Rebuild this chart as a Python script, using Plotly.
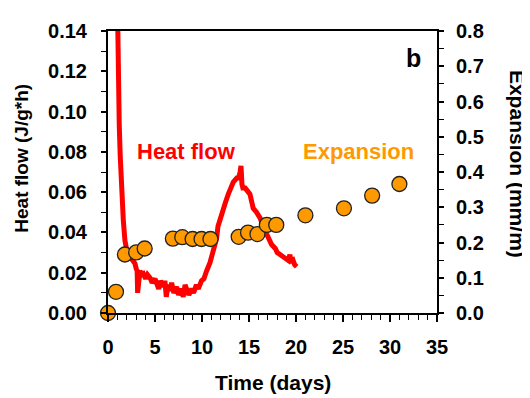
import plotly.graph_objects as go

# Heat flow (left axis), time in days
hf_time = [0.95, 1.0, 1.1, 1.2, 1.3, 1.4, 1.5, 1.63, 1.8, 2.0,
           2.34, 2.6, 2.87, 3.0, 3.1, 3.15, 3.25, 3.4, 3.6, 3.76,
           4.0, 4.2, 4.47, 4.7, 5.0, 5.2, 5.4, 5.6, 5.9, 6.05,
           6.2, 6.4, 6.6, 6.77, 7.0, 7.3, 7.5, 7.8, 8.0, 8.2,
           8.4, 8.6, 8.9, 9.1, 9.4, 9.6, 9.95, 10.2, 10.5, 10.85,
           11.2, 11.55, 11.7, 12.0, 12.27, 12.5, 12.8, 13.0, 13.33, 13.7,
           13.9, 14.05, 14.15, 14.25, 14.35, 14.6, 14.8, 15.1, 15.3, 15.45,
           15.8, 16.2, 16.5, 16.9, 17.1, 17.4, 17.8, 18.0, 18.3, 18.6,
           18.9, 19.2, 19.35, 19.5, 19.7, 19.85, 20.07]
hf_value = [0.17, 0.14, 0.115, 0.093, 0.078, 0.064, 0.054, 0.046, 0.036, 0.031,
            0.028, 0.026, 0.0245, 0.022, 0.021, 0.010, 0.019, 0.021, 0.019, 0.0195,
            0.017, 0.019, 0.0175, 0.015, 0.017, 0.015, 0.012, 0.016, 0.013, 0.016,
            0.008, 0.014, 0.011, 0.015, 0.010, 0.013, 0.009, 0.012, 0.008, 0.014,
            0.012, 0.009, 0.012, 0.010, 0.014, 0.012, 0.016, 0.017, 0.021, 0.025,
            0.031, 0.037, 0.043, 0.048, 0.052, 0.055, 0.059, 0.061, 0.065, 0.067,
            0.067, 0.070, 0.073, 0.064, 0.062, 0.062, 0.061, 0.059, 0.055, 0.052,
            0.050, 0.047, 0.043, 0.039, 0.036, 0.034, 0.032, 0.030, 0.029, 0.028,
            0.027, 0.026, 0.029, 0.025, 0.026, 0.024, 0.023]

# Expansion (right axis)
exp_time = [0, 0.85, 1.8, 3.0, 3.9, 6.9, 7.9, 9.0, 9.95, 10.9, 13.9, 14.9, 15.9, 16.9, 17.9, 21.0, 25.1, 28.1, 31.0]
exp_value = [0.0, 0.06, 0.166, 0.172, 0.183, 0.211, 0.215, 0.21, 0.21, 0.21, 0.216, 0.228, 0.224, 0.25, 0.25,
             0.277, 0.297, 0.333, 0.366]

x_ticks = [0, 5, 10, 15, 20, 25, 30, 35]
hf_ticks = [0.00, 0.02, 0.04, 0.06, 0.08, 0.10, 0.12, 0.14]
exp_ticks = [0.0, 0.1, 0.2, 0.3, 0.4, 0.5, 0.6, 0.7, 0.8]

FONT = "Arial, Liberation Sans, sans-serif"
RED = "#FF0000"
ORANGE = "#FF9900"

fig = go.Figure()
fig.add_trace(go.Scatter(x=hf_time, y=hf_value, mode="lines",
                         line=dict(color=RED, width=5), yaxis="y", showlegend=False))
fig.add_trace(go.Scatter(x=exp_time, y=exp_value, mode="markers", yaxis="y2", cliponaxis=False,
                         marker=dict(color=ORANGE, size=15, line=dict(color="#222222", width=1.3)),
                         showlegend=False))

tickfont = dict(family=FONT, size=20, color="black")
fig.update_layout(
    width=522, height=390, autosize=False,
    margin=dict(l=100, r=93, t=20, b=85),
    paper_bgcolor="white", plot_bgcolor="white",
    xaxis=dict(range=[0, 35], tickvals=x_ticks, ticktext=[f"<b>{v}</b>" for v in x_ticks],
               ticks="outside", ticklen=7, tickwidth=1.5, tickcolor="black",
               minor=dict(dtick=1, ticks="outside", ticklen=5, tickwidth=1.2, tickcolor="black"),
               showline=True, linecolor="black", linewidth=2, mirror=True,
               showgrid=False, zeroline=False, tickfont=tickfont, ticklabelstandoff=8),
    yaxis=dict(range=[0, 0.14], tickvals=hf_ticks, ticktext=[f"<b>{v:.2f}</b>" for v in hf_ticks],
               ticks="outside", ticklen=5, tickwidth=1.5, tickcolor="black",
               minor=dict(dtick=0.01, ticks="outside", ticklen=5, tickwidth=1.2, tickcolor="black"),
               showline=True, linecolor="black", linewidth=2,
               showgrid=False, zeroline=False, tickfont=tickfont, ticklabelstandoff=10),
    yaxis2=dict(range=[0, 0.8], overlaying="y", side="right",
                tickvals=exp_ticks, ticktext=[f"<b>{v:.1f}</b>" for v in exp_ticks],
                ticks="outside", ticklen=5, tickwidth=1.5, tickcolor="black",
                minor=dict(dtick=0.05, ticks="outside", ticklen=5, tickwidth=1.2, tickcolor="black"),
                showline=True, linecolor="black", linewidth=2,
                showgrid=False, zeroline=False, tickfont=tickfont, ticklabelstandoff=8),
    annotations=[
        dict(text="<b>Time (days)</b>", xref="paper", yref="paper", x=0.5, y=-0.245,
             showarrow=False, font=dict(family=FONT, size=21, color="black"),
             xanchor="center", yanchor="middle"),
        dict(text="<b>Heat flow (J/g*h)</b>", xref="paper", yref="paper", x=-0.262, y=0.55,
             textangle=-90, showarrow=False, font=dict(family=FONT, size=19, color="black"),
             xanchor="center", yanchor="middle"),
        dict(text="<b>Expansion (mm/m)</b>", xref="paper", yref="paper", x=1.245, y=0.53,
             textangle=90, showarrow=False, font=dict(family=FONT, size=21, color="black"),
             xanchor="center", yanchor="middle"),
        dict(text="<b>b</b>", xref="paper", yref="paper", x=0.93, y=0.905,
             showarrow=False, font=dict(family=FONT, size=25, color="black"),
             xanchor="center", yanchor="middle"),
        dict(text="<b>Heat flow</b>", xref="x", yref="y", x=8.4, y=0.080,
             showarrow=False, font=dict(family=FONT, size=22, color=RED),
             xanchor="center", yanchor="middle"),
        dict(text="<b>Expansion</b>", xref="x", yref="y", x=26.6, y=0.080,
             showarrow=False, font=dict(family=FONT, size=22, color=ORANGE),
             xanchor="center", yanchor="middle"),
    ],
)

fig.write_html("out.html")
